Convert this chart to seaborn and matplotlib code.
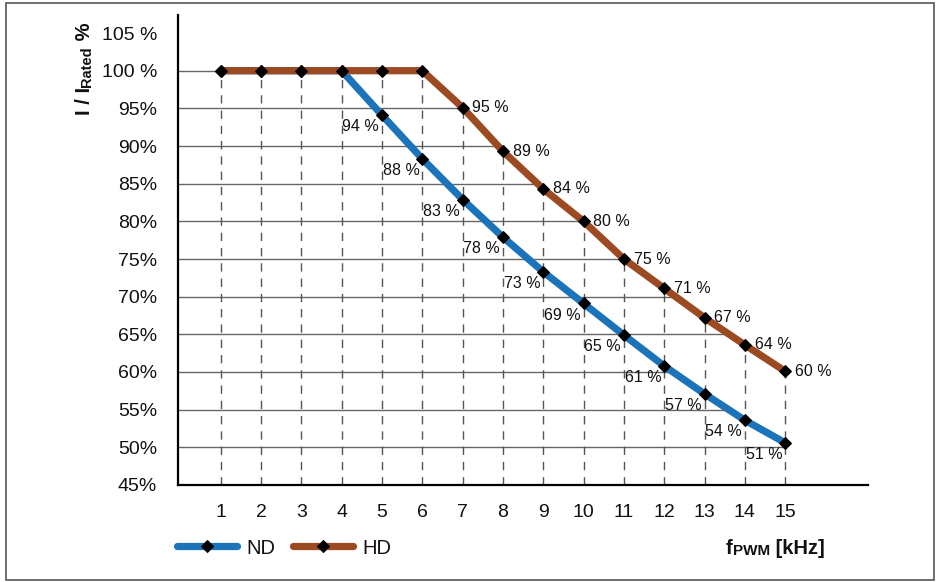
import numpy as np
import pandas as pd
import seaborn as sns
import matplotlib.pyplot as plt
from matplotlib.patches import Rectangle

# data
freq = [1, 2, 3, 4, 5, 6, 7, 8, 9, 10, 11, 12, 13, 14, 15]
nd = [100, 100, 100, 100, 94.1, 88.3, 82.9, 77.9, 73.3, 69.1, 64.9, 60.8, 57.1, 53.6, 50.6]
hd = [100, 100, 100, 100, 100, 100, 95.1, 89.3, 84.3, 80.0, 75.0, 71.1, 67.2, 63.6, 60.1]
ytick_vals = [45, 50, 55, 60, 65, 70, 75, 80, 85, 90, 95, 100, 105]
ytick_labels = ["45%", "50%", "55%", "60%", "65%", "70%", "75%", "80%", "85%", "90%", "95%", "100 %", "105 %"]
grid_levels = [50, 55, 60, 65, 70, 75, 80, 85, 90, 95, 100]

blue = "#1b73ba"
brown = "#9b4a21"

sns.set_style("white")
plt.rcParams['font.family'] = ['Liberation Sans', 'DejaVu Sans']
plt.rcParams['text.color'] = '#111111'
plt.rcParams['xtick.labelcolor'] = '#111111'
plt.rcParams['ytick.labelcolor'] = '#111111'

df = pd.DataFrame({"f": freq, "ND": nd, "HD": hd})

fig = plt.figure(figsize=(9.39, 5.82), dpi=100)
ax = fig.add_axes([0.1896, 0.1667, 0.735, 0.8076])
ax.set_xlim(-0.06, 17.06)
ax.set_ylim(45, 107.4)

# horizontal grid lines, stopping where they meet the curves
x0 = ax.get_xlim()[0]
for lev in grid_levels:
    if lev >= min(hd):
        xe = np.interp(lev, hd[::-1], freq[::-1])
    elif lev >= min(nd):
        xe = np.interp(lev, nd[::-1], freq[::-1])
    else:
        xe = freq[-1]
    ax.hlines(lev, x0, xe, color="#666666", lw=1, zorder=1)

# dashed drop lines from the upper curve
ax.vlines(freq, 45, hd, color="#555555", lw=1, linestyles=(0, (6, 5)), zorder=1)

sns.lineplot(data=df, x="f", y="ND", color=blue, lw=5.2, marker="D", markersize=6.2,
             markerfacecolor="black", markeredgecolor="black", solid_capstyle="round",
             label="ND", ax=ax, zorder=3)
sns.lineplot(data=df, x="f", y="HD", color=brown, lw=5.2, marker="D", markersize=6.2,
             markerfacecolor="black", markeredgecolor="black", solid_capstyle="round",
             label="HD", ax=ax, zorder=4)

for x, v in zip(freq, nd):
    if v < 99.5:
        ax.annotate(f"{round(v)} %", (x, v), xytext=(-2, -3), textcoords="offset points",
                    ha="right", va="top", fontsize=11.5)
for x, v in zip(freq, hd):
    if v < 99.5:
        ax.annotate(f"{round(v)} %", (x, v), xytext=(7, 0), textcoords="offset points",
                    ha="left", va="center", fontsize=11.5)

ax.set_xticks(freq)
ax.set_xticklabels([str(f) for f in freq], fontsize=14)
ax.set_yticks(ytick_vals)
ax.set_yticklabels(ytick_labels, fontsize=14)
ax.tick_params(axis="x", length=0, pad=14)
ax.tick_params(axis="y", direction="in", length=7, width=1, color="#444444", pad=15)
ax.set_xlabel("")
ax.set_ylabel("")

sns.despine(ax=ax)
for s in ["left", "bottom"]:
    ax.spines[s].set_color("black")
    ax.spines[s].set_linewidth(1.6)

# legend below the axes
handles, labels = ax.get_legend_handles_labels()
ax.legend_.remove()
fig.legend(handles, labels, loc="center left", bbox_to_anchor=(177 / 939, 0.0584),
           frameon=False, ncol=2, fontsize=14.5, handlelength=3.0, handletextpad=0.45,
           columnspacing=0.85, borderpad=0, borderaxespad=0, numpoints=1)

# y label: I / I_Rated %
t1 = fig.text(0.1006, 0.802, "I / I", rotation=90, ha="right", va="bottom",
              fontsize=14.5, fontweight="bold")
t2 = ax.annotate("Rated", xy=(1, 1), xycoords=t1, rotation=90, ha="right", va="bottom",
                 fontsize=10.5, fontweight="bold", annotation_clip=False)
ax.annotate(" %", xy=(1, 1), xycoords=t2, rotation=90, ha="right", va="bottom",
            fontsize=14.5, fontweight="bold", annotation_clip=False)

# x label: f_PWM [kHz]
t3 = fig.text(726 / 939, 0.048, "f", ha="left", va="baseline", fontsize=14.5, fontweight="bold")
t4 = ax.annotate("PWM", xy=(1, 0), xycoords=t3, ha="left", va="bottom",
                 fontsize=11, fontweight="bold", annotation_clip=False)
ax.annotate(" [kHz]", xy=(1, 0), xycoords=t4, ha="left", va="bottom",
            fontsize=14.5, fontweight="bold", annotation_clip=False)

fig.add_artist(Rectangle((0.0064, 0.0026), 0.988, 0.992, transform=fig.transFigure,
                         fill=False, ec="#555555", lw=1.2))

fig.savefig("out.png", dpi=100)
